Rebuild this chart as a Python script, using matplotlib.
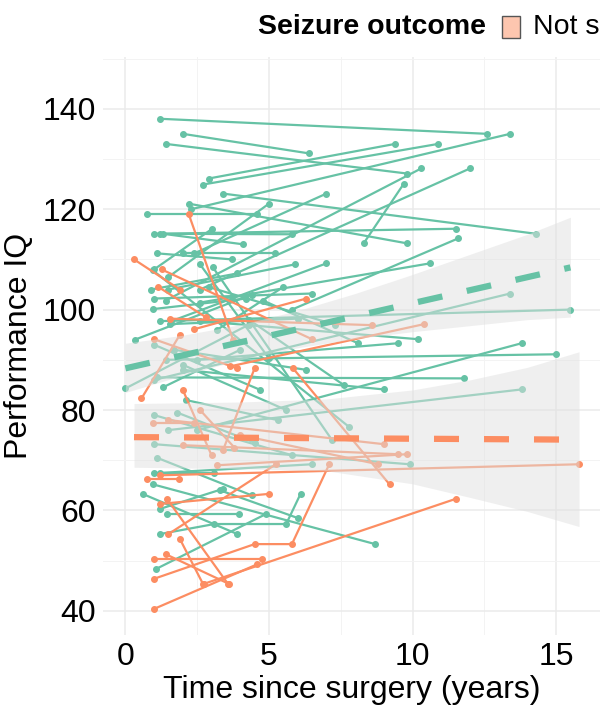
import matplotlib
matplotlib.use("Agg")
import matplotlib.pyplot as plt
from matplotlib.patches import Rectangle

plt.rcParams['font.family'] = ['Liberation Sans', 'DejaVu Sans']

GREEN = "#66C2A5"
ORANGE = "#FC8D62"

# seizure free subjects: (years since surgery, performance IQ)
free_subjects = [
    [(1.2, 138.0), (12.6, 135.0)], [(2.0, 135.0), (6.4, 131.1)], [(1.4, 133.0), (9.8, 127.1)],
    [(2.3, 120.0), (13.4, 135.0)], [(2.9, 126.1), (9.4, 133.0)], [(2.7, 124.9), (10.9, 133.0)],
    [(2.6, 104.0), (12.0, 128.1)], [(3.4, 123.1), (14.3, 115.1)], [(1.2, 115.1), (11.5, 116.1)],
    [(2.2, 121.1), (9.8, 113.2)], [(8.3, 113.2), (9.7, 125.1)], [(5.8, 100.0), (11.6, 114.2)],
    [(1.4, 101.8), (10.3, 128.1)], [(0.75, 119.1), (4.6, 119.1)], [(1.0, 115.1), (5.8, 115.0)],
    [(1.3, 115.1), (4.1, 113.0)], [(1.1, 111.2), (3.7, 110.0)], [(2.4, 111.2), (7.0, 123.1)],
    [(2.0, 111.2), (5.2, 111.2)], [(1.5, 106.5), (5.0, 121.1)], [(2.6, 101.4), (10.6, 109.2)],
    [(1.5, 104.0), (5.9, 109.0)], [(1.6, 97.7), (7.0, 109.2)], [(1.2, 97.7), (15.5, 100.0)],
    [(1.0, 86.0), (13.4, 103.2)], [(0.33, 94.0), (4.4, 103.0)], [(0.0, 84.3), (4.3, 97.0)],
    [(2.5, 90.0), (9.5, 93.3)], [(2.5, 76.0), (13.8, 93.3)], [(1.4, 90.0), (15.0, 91.1)],
    [(1.1, 86.5), (11.8, 86.3)], [(2.0, 88.0), (9.0, 84.1)], [(1.5, 76.0), (13.8, 84.1)],
    [(4.8, 101.8), (8.1, 93.3)], [(2.6, 97.7), (10.2, 94.1)], [(1.0, 73.2), (9.9, 69.2)],
    [(0.96, 65.2), (8.7, 53.3)], [(1.0, 67.4), (6.5, 69.2)], [(1.2, 67.4), (3.1, 67.4)],
    [(0.6, 63.3), (3.9, 55.3)], [(1.2, 60.3), (3.4, 64.3)], [(1.45, 59.3), (3.95, 59.3)],
    [(1.2, 55.3), (3.1, 57.3), (5.6, 57.3), (6.1, 63.3)], [(1.05, 48.3), (4.9, 59.3)],
    [(1.0, 102.2), (6.5, 103.2)], [(1.55, 97.1), (6.0, 98.2)], [(0.96, 100.1), (4.2, 102.2)],
    [(2.6, 109.0), (5.0, 90.3)], [(0.96, 107.8), (7.8, 76.6)], [(3.05, 108.4), (7.2, 74.0)],
    [(2.0, 89.0), (5.6, 80.0)], [(1.0, 79.0), (5.8, 71.0)], [(0.9, 104.0), (3.9, 107.2)],
    [(1.8, 79.5), (4.5, 73.5)], [(4.3, 98.0), (7.6, 85.0)], [(1.0, 93.0), (4.7, 84.0)],
    [(2.9, 104.5), (7.3, 97.0)], [(1.7, 92.0), (6.3, 88.0)], [(1.0, 108.0), (3.0, 116.0)],
    [(3.2, 96.0), (5.5, 104.5)], [(1.3, 84.5), (4.0, 92.0)], [(2.1, 82.0), (5.3, 78.0)],
    [(1.1, 70.5), (4.4, 63.0)], [(3.3, 64.0), (6.0, 58.5)],
]

# not seizure free subjects
notfree_subjects = [
    [(0.3, 110.0), (1.9, 104.0)], [(2.2, 119.1), (3.75, 94.0)], [(1.26, 108.0), (6.5, 94.1)],
    [(2.4, 96.1), (6.3, 102.2)], [(1.0, 94.1), (3.9, 88.3)], [(3.65, 88.7), (10.4, 97.1)],
    [(1.55, 98.2), (8.6, 96.9)], [(5.84, 88.3), (9.2, 65.2)], [(3.4, 72.0), (4.5, 88.3)],
    [(0.56, 82.3), (1.9, 95.0)], [(1.2, 67.0), (15.8, 69.2)], [(0.74, 66.2), (1.86, 66.2)],
    [(1.2, 61.3), (5.0, 63.3)], [(1.45, 62.3), (3.57, 45.4)], [(1.5, 55.3), (5.24, 69.2)],
    [(1.0, 50.3), (4.76, 50.3)], [(1.4, 51.3), (3.6, 45.4)],
    [(1.0, 46.4), (4.5, 53.3), (5.8, 53.3), (7.1, 69.2)], [(1.0, 40.4), (4.6, 49.3)],
    [(1.9, 54.3), (2.7, 45.4)], [(2.74, 45.4), (11.5, 62.3)], [(0.96, 77.4), (2.4, 77.4)],
    [(1.5, 78.0), (9.0, 73.2)], [(4.0, 75.0), (8.8, 69.2)], [(2.0, 73.0), (9.5, 71.2)],
    [(3.2, 69.0), (9.8, 71.2)], [(1.15, 104.5), (2.8, 98.5)], [(2.0, 84.0), (3.0, 71.0)],
    [(2.6, 80.0), (3.8, 72.5)],
]

# linear trend + confidence band
free_trend_x = [0.0, 15.5]
free_trend_y = [88.3, 108.4]
free_band_x = [0, 2, 4, 6, 8, 10, 12, 14, 15.5]
free_band_lo = [83.5, 86.9, 90.0, 92.4, 94.2, 95.6, 96.8, 98.0, 98.5]
free_band_hi = [93.3, 94.9, 97.0, 99.8, 103.2, 107.0, 111.0, 115.0, 118.4]

notfree_trend_x = [0.3, 15.8]
notfree_trend_y = [74.6, 74.1]
notfree_band_x = [0.3, 4, 7, 10, 12, 14, 15.8]
notfree_band_lo = [68.6, 68.3, 67.9, 65.3, 62.6, 59.8, 56.8]
notfree_band_hi = [81.3, 81.6, 82.2, 84.0, 86.0, 88.5, 91.6]

fig = plt.figure(figsize=(6, 7.08), dpi=100)
ax = fig.add_axes([103 / 600, 73 / 708, 497 / 600, 578 / 708])

for subjects, col in [(free_subjects, GREEN), (notfree_subjects, ORANGE)]:
    for s in subjects:
        t = [p[0] for p in s]
        iq = [p[1] for p in s]
        ax.plot(t, iq, color=col, lw=1.6, marker="o", ms=4, zorder=2, solid_capstyle="round")

for bx, lo, hi in [(notfree_band_x, notfree_band_lo, notfree_band_hi),
                   (free_band_x, free_band_lo, free_band_hi)]:
    ax.fill_between(bx, lo, hi, color="#e0e0e0", alpha=0.5, lw=0, zorder=3)

ax.plot(notfree_trend_x, notfree_trend_y, color=ORANGE, lw=4.5, dashes=(4, 4), zorder=4)
ax.plot(free_trend_x, free_trend_y, color=GREEN, lw=4.5, dashes=(4, 4), zorder=4)

ax.set_xlim(-0.78, 16.53)
ax.set_ylim(35.2, 150.3)
ax.set_xticks([0, 5, 10, 15])
ax.set_yticks([40, 60, 80, 100, 120, 140])
ax.set_xticks([2.5, 7.5, 12.5], minor=True)
ax.set_yticks([50, 70, 90, 110, 130, 150], minor=True)
ax.grid(which="major", color="#EBEBEB", lw=1.1)
ax.grid(which="minor", color="#F3F3F3", lw=0.7)
ax.set_axisbelow(True)
for sp in ax.spines.values():
    sp.set_visible(False)
ax.tick_params(which="both", length=0, labelsize=23, labelcolor="black", pad=5)
ax.set_xlabel("Time since surgery (years)", fontsize=23, labelpad=2)
ax.set_ylabel("Performance IQ", fontsize=23, labelpad=6)

# legend at top (runs off the right edge, as in the source)
fig.text(258 / 600, 1 - 27 / 708, "Seizure outcome", fontsize=20.5, fontweight="bold",
         ha="left", va="center")
fig.patches.append(Rectangle((502 / 600, 1 - 38 / 708), 18 / 600, 22 / 708,
                             transform=fig.transFigure, fc="#FDC6AF", ec="#555555", lw=1))
fig.text(533 / 600, 1 - 27 / 708, "Not seizure free", fontsize=20.5, ha="left", va="center")

fig.savefig("out.png", dpi=100)
